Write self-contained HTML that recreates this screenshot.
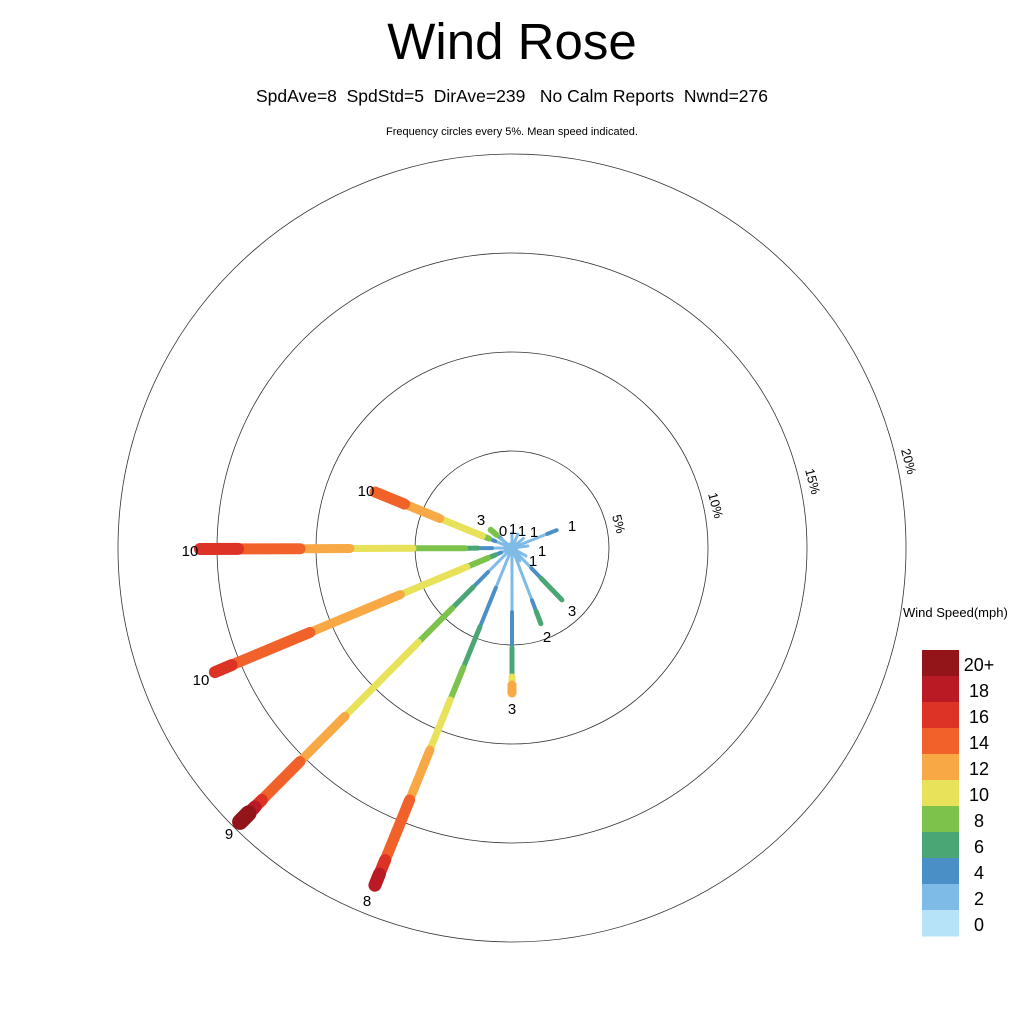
<!DOCTYPE html>
<html><head><style>
html,body{margin:0;padding:0;background:#fff;}
svg{display:block;font-family:"Liberation Sans",sans-serif;}
</style></head><body>
<svg id="s" width="1024" height="1024" xmlns="http://www.w3.org/2000/svg">
<rect width="1024" height="1024" fill="#fff"/>
<text x="512" y="59" font-size="51" text-anchor="middle">Wind Rose</text>
<text x="512" y="102" font-size="17.5" text-anchor="middle" style="white-space:pre" xml:space="preserve">SpdAve=8  SpdStd=5  DirAve=239   No Calm Reports  Nwnd=276</text>
<text x="512" y="135" font-size="11" text-anchor="middle">Frequency circles every 5%. Mean speed indicated.</text>
<g fill="none" stroke="#333" stroke-width="0.8">
<circle cx="512" cy="548" r="97"/>
<circle cx="512" cy="548" r="196"/>
<circle cx="512" cy="548" r="295"/>
<circle cx="512" cy="548" r="394"/>
</g>
<g font-size="13">
<text transform="translate(612,516) rotate(75)">5%</text>
<text transform="translate(708,494) rotate(75)">10%</text>
<text transform="translate(805,470) rotate(75)">15%</text>
<text transform="translate(901,450) rotate(75)">20%</text>
</g>
<g id="sp" stroke-linecap="round"></g>
<g font-size="15" text-anchor="middle">
<text x="503" y="536">0</text><text x="513" y="534">1</text><text x="522" y="536">1</text><text x="534" y="537">1</text>
<text x="572" y="531">1</text><text x="542" y="556">1</text><text x="533" y="566">1</text>
<text x="481" y="525">3</text><text x="366" y="496">10</text><text x="190" y="556">10</text>
<text x="201" y="685">10</text><text x="229" y="839">9</text><text x="367" y="906">8</text>
<text x="512" y="714">3</text><text x="547" y="642">2</text><text x="572" y="616">3</text>
</g>
<text x="903" y="617" font-size="13">Wind Speed(mph)</text>
<g id="lg"></g>
</svg>
<script>
var C=["#b6e3f7","#7ebbe6","#4a8fc6","#4aa674","#7dc24b","#e8e25a","#f8a946","#f1622a","#dc3326","#b91a24","#931419"];
var W=[2,3,4,5,6,7,9,11,12,13,16];
var cx=512,cy=548;
var S=[
[200,549,[[20,1],[34,2],[47,3],[99,4],[162,5],[212,6],[274,7],[312,8]]],
[375,492,[[18,1],[25,2],[32,4],[78,5],[116,6],[148,7]]],
[491,530,[[14,1],[20,2],[28,4]]],
[215,672,[[12,1],[18,2],[26,3],[49,4],[121,5],[219,6],[304,7],[322,8]]],
[240,822,[[34,1],[55,2],[85,3],[133,4],[237,5],[301,6],[355,7],[365,8],[374,9],[386,10]]],
[375,885,[[43,1],[85,2],[129,3],[164,4],[218,5],[272,6],[337,7],[352,8],[364,9]]],
[512,693,[[64,1],[100,2],[129,3],[137,5],[145,6]]],
[541,624,[[56,1],[68,2],[81,3]]],
[562,600,[[28,1],[42,2],[72,3]]],
[557,530,[[38,1],[48,2]]],
[512,533,[[15,1]]],[518,534,[[15,1]]],[524,538,[[15,1]]],[528,546,[[16,1]]],[526,556,[[16,1]]],[520,561,[[15,1]]],[500,538,[[15,1]]]
];
var g=document.getElementById("sp"),h="";
S.forEach(function(s){
 var dx=s[0]-cx,dy=s[1]-cy,L=Math.sqrt(dx*dx+dy*dy),ux=dx/L,uy=dy/L,p=0;
 s[2].forEach(function(seg){
  var d=seg[0],k=seg[1];
  h+='<line x1="'+(cx+ux*p).toFixed(1)+'" y1="'+(cy+uy*p).toFixed(1)+'" x2="'+(cx+ux*d).toFixed(1)+'" y2="'+(cy+uy*d).toFixed(1)+'" stroke="'+C[k]+'" stroke-width="'+W[k]+'"/>';
  p=d;
 });
});
h+='<circle cx="512" cy="548" r="6" fill="#7ebbe6"/>';
g.innerHTML=h;
var lg=document.getElementById("lg"),t="";
var lab=["20+","18","16","14","12","10","8","6","4","2","0"];
for(var i=0;i<11;i++){
 t+='<rect x="922" y="'+(650+i*26)+'" width="37" height="26.5" fill="'+C[10-i]+'"/>';
 t+='<text x="979" y="'+(671+i*26)+'" font-size="18" text-anchor="middle">'+lab[i]+'</text>';
}
lg.innerHTML=t;
</script>
</body></html>
